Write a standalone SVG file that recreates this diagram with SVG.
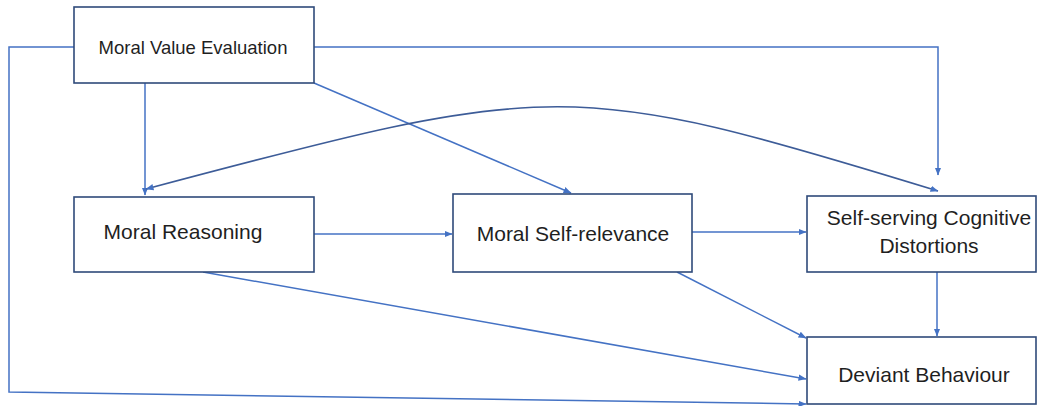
<svg xmlns="http://www.w3.org/2000/svg" width="1039" height="406" viewBox="0 0 1039 406">
  <style>
    .box { fill: #ffffff; stroke: #2F4A7A; stroke-width: 1.6; }
    .lbl { font-family: "Liberation Sans", Arial, sans-serif; font-size: 21px; fill: #1f1f1f; text-anchor: middle; }
    .edge { fill: none; stroke: #4472C4; stroke-width: 1.5; marker-end: url(#arrow); }
    .curve { fill: none; stroke: #3D5C98; stroke-width: 1.6; marker-start: url(#arrowStart); marker-end: url(#arrow); }
  </style>
  <defs>
    <marker id="arrow" markerUnits="userSpaceOnUse" markerWidth="8" markerHeight="8" viewBox="0 0 8 8" refX="7.5" refY="4" orient="auto">
      <path d="M0,0.8 L8,4 L0,7.2 Z" fill="#4472C4"/>
    </marker>
    <marker id="arrowStart" markerUnits="userSpaceOnUse" markerWidth="8" markerHeight="8" viewBox="0 0 8 8" refX="0.5" refY="4" orient="auto">
      <path d="M8,0.8 L0,4 L8,7.2 Z" fill="#4472C4"/>
    </marker>
  </defs>
  <rect width="1039" height="406" fill="#ffffff"/>

  <g id="connectors">
    <!-- Moral Value Evaluation -> Moral Reasoning -->
    <path class="edge" d="M145,83 L145,195"/>
    <!-- Moral Value Evaluation -> Moral Self-relevance -->
    <path class="edge" d="M314,83 L571,193"/>
    <!-- Moral Value Evaluation -> Self-serving Cognitive Distortions -->
    <path class="edge" d="M314,47 L938,47 L938,175"/>
    <!-- Moral Value Evaluation -> Deviant Behaviour (outer loop) -->
    <path class="edge" d="M74,47 L9,47 L9,392 L806,404"/>
    <!-- Moral Reasoning <-> Self-serving Cognitive Distortions -->
    <path class="curve" d="M146,189 C555,80 570,78 938,191"/>
    <!-- Moral Reasoning -> Moral Self-relevance -->
    <path class="edge" d="M314,234 L452,234"/>
    <!-- Moral Self-relevance -> Self-serving Cognitive Distortions -->
    <path class="edge" d="M692,232 L806,232"/>
    <!-- Self-serving Cognitive Distortions -> Deviant Behaviour -->
    <path class="edge" d="M937,272 L937,336"/>
    <!-- Moral Reasoning -> Deviant Behaviour -->
    <path class="edge" d="M203,272 L806,379"/>
    <!-- Moral Self-relevance -> Deviant Behaviour -->
    <path class="edge" d="M677,272 L806,338"/>
  </g>

  <g id="node-moral-value-evaluation">
    <rect class="box" x="74" y="7" width="240" height="76"/>
    <text class="lbl" x="193" y="54" style="font-size:18.5px">Moral Value Evaluation</text>
  </g>
  <g id="node-moral-reasoning">
    <rect class="box" x="74" y="197" width="240" height="75"/>
    <text class="lbl" x="183" y="239">Moral Reasoning</text>
  </g>
  <g id="node-moral-self-relevance">
    <rect class="box" x="453" y="194" width="239" height="78"/>
    <text class="lbl" x="573" y="241">Moral Self-relevance</text>
  </g>
  <g id="node-cognitive-distortions">
    <rect class="box" x="807" y="196" width="229" height="76"/>
    <text class="lbl" x="929" y="225">Self-serving Cognitive</text>
    <text class="lbl" x="929" y="253">Distortions</text>
  </g>
  <g id="node-deviant-behaviour">
    <rect class="box" x="807" y="337" width="229" height="67"/>
    <text class="lbl" x="924" y="382">Deviant Behaviour</text>
  </g>
</svg>
